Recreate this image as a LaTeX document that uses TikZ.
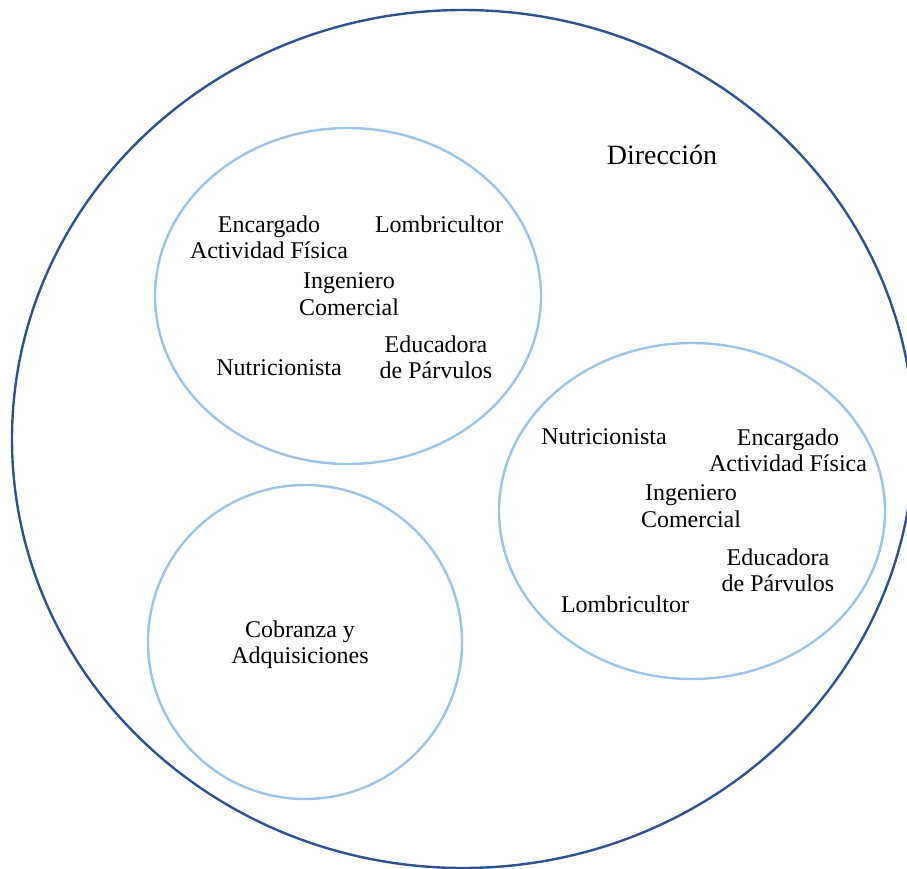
\documentclass[tikz,border=0pt]{standalone}
\usepackage{fontspec}
\setmainfont{Liberation Serif}
\usepackage{tikz}

\definecolor{dirblue}{RGB}{47,82,143}
\definecolor{areablue}{RGB}{157,195,230}

\tikzset{
  cargo/.style={inner sep=0.75pt, align=center, font=\fontsize{12}{13.2}\selectfont},
}

\begin{document}
\begin{tikzpicture}[x=0.5pt,y=0.5pt,yscale=-1,xscale=1]
\useasboundingbox (0,0) rectangle (907,869);
\clip (0,0) rectangle (907,869);

%Ellipse Direccion
\draw [color=dirblue, line width=1.2pt]  (463,439) ellipse [x radius=451, y radius=429];
%Ellipse top left
\draw [color=areablue, line width=1.2pt]  (348,296) ellipse [x radius=193, y radius=168];
%Ellipse right
\draw [color=areablue, line width=1.2pt]  (692,511) ellipse [x radius=193, y radius=168];
%Circle bottom left
\draw [color=areablue, line width=1.2pt]  (305,642) circle [radius=157];

% Text Node
\node (direccion) at (662,155) [inner sep=0.75pt, font=\fontsize{14}{16}\selectfont] {Dirección};

% Text Node
\node (encA) at (269,237) [cargo] {Encargado\\Actividad Física};
% Text Node
\node (lombA) at (439,224) [cargo] {Lombricultor};
% Text Node
\node (ingA) at (349,294) [cargo] {Ingeniero\\Comercial};
% Text Node
\node (eduA) at (436,357) [cargo] {Educadora\\de Párvulos};
% Text Node
\node (nutA) at (279,368) [cargo] {Nutricionista};

% Text Node
\node (nutB) at (604,437) [cargo] {Nutricionista};
% Text Node
\node (encB) at (788,450) [cargo] {Encargado\\Actividad Física};
% Text Node
\node (ingB) at (691,506) [cargo] {Ingeniero\\Comercial};
% Text Node
\node (eduB) at (778,570) [cargo] {Educadora\\de Párvulos};
% Text Node
\node (lombB) at (625,604) [cargo] {Lombricultor};

% Text Node
\node (cobranza) at (300,645) [cargo] {Cobranza y\\Adquisiciones};

\end{tikzpicture}
\end{document}
